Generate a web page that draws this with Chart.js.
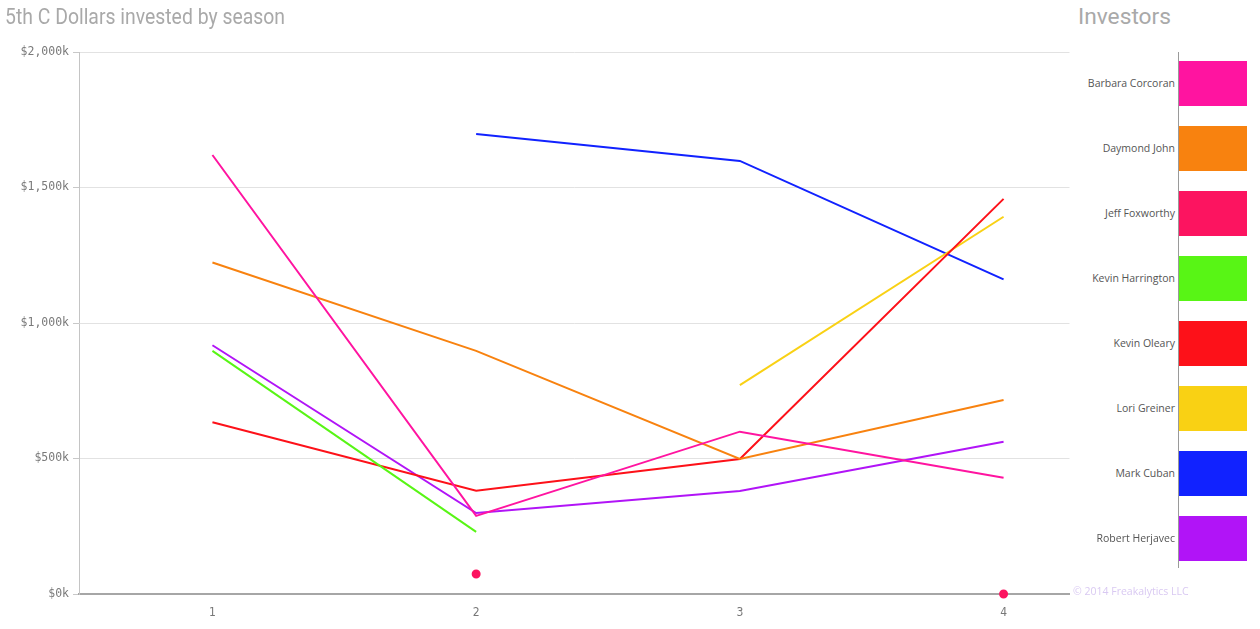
<!DOCTYPE html>
<html>
<head>
<meta charset="utf-8">
<script src="https://cdn.jsdelivr.net/npm/chart.js@4"></script>
<style>
    html, body { margin: 0; padding: 0; background: #fff; width: 1260px; height: 629px; overflow: hidden; }
    #wrap { position: relative; width: 1260px; height: 629px; }
    #chartBox { position: absolute; left: 0; top: 0; width: 1075px; height: 629px; }
    .title { position: absolute; font-family: Roboto, sans-serif; font-size: 22px; color: #a9a9a9; white-space: nowrap; transform-origin: left top; }
    #legend { position: absolute; left: 1075px; top: 0; width: 185px; height: 629px; }
    #legend .axis { position: absolute; left: 103px; top: 52px; width: 1px; height: 516px; background: #9a9a9a; }
    #legend .item { position: absolute; left: 0; width: 185px; height: 45px; }
    #legend .lbl { position: absolute; right: 85px; top: 0; height: 45px; line-height: 45px; font-family: "Open Sans", sans-serif; font-size: 10.5px; color: #555; white-space: nowrap; }
    #legend .sw { position: absolute; left: 104px; top: 0; width: 68px; height: 45px; }
    #copy { position: absolute; left: 1073px; top: 584px; font-family: "Open Sans", sans-serif; font-size: 10.5px; color: #d9c9f2; white-space: nowrap; }
</style>
</head>
<body>
<div id="wrap">
    <div id="chartBox"><canvas id="lineChart"></canvas></div>
    <div class="title" id="mainTitle" style="left:5px; top:4px;">5th C Dollars invested by season</div>
    <div class="title" id="legendTitle" style="left:1078px; top:4px;">Investors</div>
    <div id="legend"><div class="axis"></div></div>
    <div id="copy">© 2014 Freakalytics LLC</div>
</div>
<script>
// seasons on the x axis
const seasons = [1, 2, 3, 4];

// investors, in legend order
const investors = ['Barbara Corcoran', 'Daymond John', 'Jeff Foxworthy', 'Kevin Harrington',
    'Kevin Oleary', 'Lori Greiner', 'Mark Cuban', 'Robert Herjavec'];
const colors = ['#ff14a0', '#f8820f', '#fc1460', '#58f515', '#fd1119', '#f9d114', '#1122ff', '#b114f7'];

// dollars invested, in $k, per season (null = no deals)
const barbaraCorcoran = [1620, 288, 599, 429];
const daymondJohn     = [1223, 897, 498, 716];
const jeffFoxworthy   = [null, 74, null, 0];
const kevinHarrington = [897, 229, null, null];
const kevinOleary     = [634, 381, 498, 1458];
const loriGreiner     = [null, null, 771, 1392];
const markCuban       = [null, 1697, 1598, 1161];
const robertHerjavec  = [918, 299, 380, 562];

const seriesValues = [barbaraCorcoran, daymondJohn, jeffFoxworthy, kevinHarrington,
    kevinOleary, loriGreiner, markCuban, robertHerjavec];

// y axis ticks ($k)
const yTicks = [0, 500, 1000, 1500, 2000];

/**
 * Squeeze a heading to the width it has in the reference
 */
function fitTitle(id, width) {
    const el = document.getElementById(id);
    const w = el.getBoundingClientRect().width;
    el.style.transform = `scaleX(${width / w})`;
}

/**
 * Build the HTML legend on the right
 */
function buildLegend() {
    const legend = document.getElementById('legend');
    investors.forEach((name, i) => {
        const item = document.createElement('div');
        item.className = 'item';
        item.style.top = (61 + i * 65) + 'px';
        item.innerHTML = `<span class="lbl">${name}</span><span class="sw" style="background:${colors[i]}"></span>`;
        legend.appendChild(item);
    });
}

/**
 * Line chart of dollars invested per season
 */
function initializeChart() {
    const datasets = investors.map((name, i) => {
        const isDots = name === 'Jeff Foxworthy';
        return {
            label: name,
            data: seasons.map((s, j) => ({ x: s, y: seriesValues[i][j] })),
            borderColor: colors[i],
            backgroundColor: colors[i],
            borderWidth: 2,
            tension: 0,
            spanGaps: false,
            showLine: !isDots,
            pointRadius: isDots ? 3.5 : 0,
            pointHoverRadius: isDots ? 3.5 : 0,
            clip: false
        };
    });

    new Chart(document.getElementById('lineChart'), {
        type: 'line',
        data: { datasets },
        options: {
            responsive: true,
            maintainAspectRatio: false,
            animation: false,
            layout: { padding: { top: 52, right: 2, left: 0, bottom: 0 } },
            plugins: {
                legend: { display: false },
                tooltip: { enabled: false }
            },
            scales: {
                x: {
                    type: 'linear',
                    min: 0.494,
                    max: 4.25,
                    afterBuildTicks: axis => { axis.ticks = seasons.map(v => ({ value: v })); },
                    afterFit: axis => { axis.height = 35; },
                    grid: { display: false, drawTicks: false },
                    border: { display: true, color: '#a6a6a6', width: 2 },
                    ticks: {
                        padding: 12,
                        color: '#777',
                        font: { family: "'DejaVu Sans Condensed', sans-serif", size: 12 },
                        callback: v => String(v)
                    }
                },
                y: {
                    min: 0,
                    max: 2000,
                    afterBuildTicks: axis => { axis.ticks = yTicks.map(v => ({ value: v })); },
                    afterFit: axis => { axis.width = 79; },
                    grid: { color: '#e2e2e2', tickColor: '#c8c8c8', tickLength: 6, drawOnChartArea: true },
                    border: { display: true, color: '#c4c4c4', width: 1 },
                    ticks: {
                        padding: 4,
                        color: '#7a7a7a',
                        font: { family: "'DejaVu Sans Mono', monospace", size: 11.5 },
                        callback: v => '$' + v.toLocaleString('en-US') + 'k'
                    }
                }
            }
        }
    });
}

buildLegend();
fitTitle('mainTitle', 280);
fitTitle('legendTitle', 93);
initializeChart();
</script>
</body>
</html>
